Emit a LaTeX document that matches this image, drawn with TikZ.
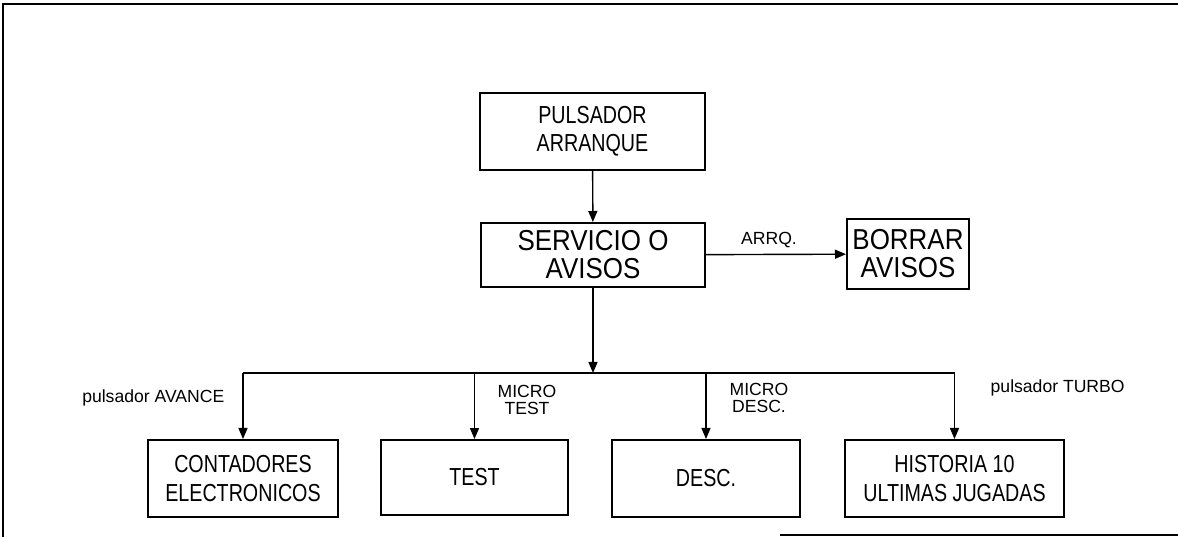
\documentclass[tikz,border=0pt]{standalone}
\usepackage{fontspec}
\setmainfont{Liberation Sans}
\newfontfamily\angosta{Liberation Sans}[FakeStretch=0.8]
\newfontfamily\media{Liberation Sans}[FakeStretch=0.9]
\usetikzlibrary{arrows.meta}
\tikzset{
  caja/.style={draw, line width=0.55pt, align=center, inner sep=0pt,
    font=\media\fontsize{8.2}{8}\selectfont},
  cajita/.style={caja, font=\angosta\fontsize{7}{8}\selectfont},
  rotulo/.style={align=center, inner sep=0pt, font=\fontsize{5}{5}\selectfont},
  flecha/.style={line width=0.4pt, -{Triangle[length=1.1mm, width=0.9mm]}}
}
\begin{document}
\begin{tikzpicture}[x=0.01cm, y=-0.01cm]
    \useasboundingbox (0,0) rectangle (1178,537);
    % marco
    \draw[line width=0.6pt] (1178,4) -- (3,4) -- (3,537);
    \draw[line width=0.6pt] (780,535) -- (1178,535);
    % cajas
    \node[cajita, minimum width=2.25cm, minimum height=0.77cm] (pulsador) at (592.5,131.5)
      {PULSADOR\\ARRANQUE};
    \node[caja, minimum width=2.24cm, minimum height=0.64cm] (servicio) at (593,255)
      {SERVICIO O\\AVISOS};
    \node[caja, minimum width=1.22cm, minimum height=0.70cm] (borrar) at (908,254)
      {BORRAR\\AVISOS};
    \node[cajita, minimum width=1.90cm, minimum height=0.77cm] (contadores) at (243,478.5)
      {CONTADORES\\ELECTRONICOS};
    \node[cajita, minimum width=1.87cm, minimum height=0.75cm] (test) at (474.5,477.5)
      {TEST};
    \node[cajita, minimum width=1.88cm, minimum height=0.77cm] (desc) at (706,478.5)
      {DESC.};
    \node[cajita, minimum width=2.19cm, minimum height=0.77cm] (historia) at (954.5,478.5)
      {HISTORIA 10\\ULTIMAS JUGADAS};
    % conexiones
    \coordinate (bus) at (593,373);
    \draw[flecha] (pulsador) -- (servicio);
    \draw[flecha] (servicio) -- (borrar);
    \draw[flecha] (servicio) -- (bus);
    \draw[line width=0.4pt] (bus -| contadores) -- (bus -| historia);
    \foreach \n in {contadores,test,desc,historia} {
      \draw[flecha] (bus -| \n) -- (\n);
    }
    % rotulos
    \node[rotulo] (arrq) at (769,240) {ARRQ.};
    \node[rotulo, anchor=east] (avance) at (225,398) {pulsador AVANCE};
    \node[rotulo] (microtest) at (527,400) {MICRO\\TEST};
    \node[rotulo] (microdesc) at (759,398) {MICRO\\DESC.};
    \node[rotulo, anchor=west] (turbo) at (990,388) {pulsador TURBO};
\end{tikzpicture}
\end{document}
